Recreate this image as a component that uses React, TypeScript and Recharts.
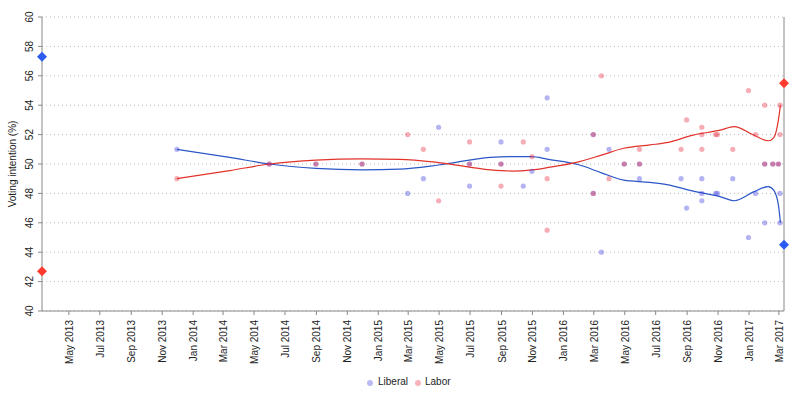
import React from 'react';
import { ComposedChart, XAxis, YAxis, CartesianGrid, Scatter, Line, ReferenceLine, Label } from 'recharts';

// Opinion polls, two-party preferred (Liberal / Labor)
const pollDates = [
  '2013-11-30', '2014-05-31', '2014-08-31', '2014-11-30', '2015-02-28', '2015-03-31',
  '2015-04-30', '2015-06-30', '2015-06-30', '2015-08-31', '2015-08-31', '2015-10-14',
  '2015-10-31', '2015-11-30', '2015-11-30', '2016-02-29', '2016-02-29', '2016-03-16',
  '2016-03-31', '2016-04-30', '2016-05-30', '2016-05-30', '2016-08-20', '2016-08-31',
  '2016-09-30', '2016-09-30', '2016-09-30', '2016-10-27', '2016-10-31', '2016-11-30',
  '2016-12-31', '2017-01-14', '2017-02-01', '2017-02-01', '2017-02-17', '2017-02-28',
  '2017-03-03', '2017-03-03',
];
const liberalPolls = [
  51, 50, 50, 50, 48, 49,
  52.5, 48.5, 50, 51.5, 50, 48.5,
  49.5, 54.5, 51, 52, 48, 44,
  51, 50, 50, 49, 49, 47,
  47.5, 48, 49, 48, 48, 49,
  45, 48, 46, 50, 50, 50,
  46, 48,
];
const laborPolls = [
  49, 50, 50, 50, 52, 51,
  47.5, 51.5, 50, 48.5, 50, 51.5,
  50.5, 45.5, 49, 48, 52, 56,
  49, 50, 50, 51, 51, 53,
  52.5, 52, 51, 52, 52, 51,
  55, 52, 54, 50, 50, 50,
  54, 52,
];

// Smoothed trend lines
const trendDates = [
  '2013-11-30', '2014-03-14', '2014-05-31', '2014-08-31', '2014-11-30', '2015-02-12',
  '2015-04-30', '2015-08-10', '2015-09-24', '2015-10-31', '2015-11-30', '2016-02-02',
  '2016-03-16', '2016-04-29', '2016-06-20', '2016-07-23', '2016-09-13', '2016-11-05',
  '2016-12-03', '2017-01-10', '2017-02-08', '2017-02-19', '2017-02-28', '2017-03-04',
];
const liberalTrend = [
  51, 50.45, 50, 49.7, 49.6, 49.65,
  49.93, 50.45, 50.5, 50.5, 50.33, 49.93,
  49.4, 48.9, 48.75, 48.6, 48.16, 47.78,
  47.5, 48.1, 48.46, 48.2, 47.2, 46,
];
const laborTrend = [
  49, 49.55, 50, 50.27, 50.35, 50.32,
  50.1, 49.6, 49.52, 49.6, 49.75, 50.16,
  50.6, 51.07, 51.3, 51.45, 51.97, 52.3,
  52.54, 51.97, 51.58, 51.8, 53, 54,
];

// Election results
const electionDates = ['2013-03-09', '2017-03-11'];
const liberalResults = [57.3, 44.5];
const laborResults = [42.7, 55.5];

const xTickDates = [
  '2013-05-01', '2013-07-01', '2013-09-01', '2013-11-01',
  '2014-01-01', '2014-03-01', '2014-05-01', '2014-07-01', '2014-09-01', '2014-11-01',
  '2015-01-01', '2015-03-01', '2015-05-01', '2015-07-01', '2015-09-01', '2015-11-01',
  '2016-01-01', '2016-03-01', '2016-05-01', '2016-07-01', '2016-09-01', '2016-11-01',
  '2017-01-01', '2017-03-01',
];
const yTicks = [40, 42, 44, 46, 48, 50, 52, 54, 56, 58, 60];
const monthNames = ['Jan', 'Feb', 'Mar', 'Apr', 'May', 'Jun', 'Jul', 'Aug', 'Sep', 'Oct', 'Nov', 'Dec'];

const FONT = '"Liberation Sans", Arial, sans-serif';
const LIB_COLOR = '#3a3ae0';
const LAB_COLOR = '#e8283c';

const toDay = (s: string) => {
  const [y, m, d] = s.split('-').map(Number);
  return Date.UTC(y, m - 1, d) / 86400000;
};

const pts = (dates: string[], vals: number[]) => dates.map((d, i) => ({ x: toDay(d), y: vals[i] }));

const libPollData = pts(pollDates, liberalPolls);
const labPollData = pts(pollDates, laborPolls);
const libTrendData = pts(trendDates, liberalTrend);
const labTrendData = pts(trendDates, laborTrend);
const libResultData = pts(electionDates, liberalResults);
const labResultData = pts(electionDates, laborResults);

const xDomain = [toDay(electionDates[0]), toDay(electionDates[1])];
const xTicks = xTickDates.map(toDay);

const labelForDay = (v: number) => {
  const d = new Date(v * 86400000);
  return `${monthNames[d.getUTCMonth()]} ${d.getUTCFullYear()}`;
};

const XTick = (props: any) => {
  const { x, y, payload } = props;
  const tx = x + 4;
  const ty = y + 3;
  return (
    <text x={tx} y={ty} transform={`rotate(-90 ${tx} ${ty})`} textAnchor="end"
      fontFamily={FONT} fontSize={10} fill="#222">
      {labelForDay(payload.value)}
    </text>
  );
};

const YTick = (props: any) => {
  const { x, y, payload } = props;
  const tx = x - 3;
  return (
    <text x={tx} y={y} transform={`rotate(-90 ${tx} ${y})`} textAnchor="middle"
      fontFamily={FONT} fontSize={10} fill="#222">
      {payload.value}
    </text>
  );
};

const dot = (color: string) => (props: any) => (
  <circle cx={props.cx} cy={props.cy} r={2.6} fill={color} fillOpacity={0.38} />
);

const diamond = (color: string) => (props: any) => {
  const { cx, cy } = props;
  return <polygon points={`${cx},${cy - 5} ${cx + 5},${cy} ${cx},${cy + 5} ${cx - 5},${cy}`} fill={color} />;
};

export default function App() {
  return (
    <div style={{ position: 'absolute', left: 0, top: 0, width: 800, height: 400, background: '#fff' }}>
      <ComposedChart width={800} height={400} margin={{ top: 17, right: 16, bottom: 27, left: 0 }}>
        <CartesianGrid horizontal vertical={false} stroke="#bbb" strokeDasharray="1 3" />
        <XAxis
          dataKey="x"
          type="number"
          domain={xDomain}
          ticks={xTicks}
          interval={0}
          height={62}
          tick={<XTick />}
          tickSize={4}
          axisLine={{ stroke: '#888' }}
          tickLine={{ stroke: '#888' }}
        />
        <YAxis
          dataKey="y"
          type="number"
          domain={[40, 60]}
          ticks={yTicks}
          width={42}
          tick={<YTick />}
          tickSize={4}
          axisLine={{ stroke: '#888' }}
          tickLine={{ stroke: '#888' }}
        >
          <Label value="Voting intention (%)" angle={-90} position="insideLeft" offset={12}
            style={{ textAnchor: 'middle', fontFamily: FONT, fontSize: 10, fill: '#222' }} />
        </YAxis>
        <ReferenceLine x={xDomain[1]} stroke="#888" />
        <Scatter name="Liberal" data={libPollData} dataKey="y" shape={dot(LIB_COLOR)} isAnimationActive={false} />
        <Scatter name="Labor" data={labPollData} dataKey="y" shape={dot(LAB_COLOR)} isAnimationActive={false} />
        <Line data={libTrendData} dataKey="y" type="monotone" stroke="#2a56c6" strokeWidth={1.2}
          dot={false} activeDot={false} isAnimationActive={false} legendType="none" />
        <Line data={labTrendData} dataKey="y" type="monotone" stroke="#e2332a" strokeWidth={1.2}
          dot={false} activeDot={false} isAnimationActive={false} legendType="none" />
        <Scatter data={libResultData} dataKey="y" shape={diamond('#2b5bf0')} isAnimationActive={false} legendType="none" />
        <Scatter data={labResultData} dataKey="y" shape={diamond('#ff3b2f')} isAnimationActive={false} legendType="none" />
      </ComposedChart>
      <div style={{ position: 'absolute', top: 376, left: 0, fontFamily: FONT, fontSize: 10, color: '#222' }}>
        <span style={{ position: 'absolute', left: 367, top: 4, width: 6, height: 6, borderRadius: 3, background: LIB_COLOR, opacity: 0.35 }} />
        <span style={{ position: 'absolute', left: 378, top: 0, whiteSpace: 'nowrap' }}>Liberal</span>
        <span style={{ position: 'absolute', left: 415, top: 4, width: 6, height: 6, borderRadius: 3, background: LAB_COLOR, opacity: 0.35 }} />
        <span style={{ position: 'absolute', left: 425, top: 0, whiteSpace: 'nowrap' }}>Labor</span>
      </div>
    </div>
  );
}
